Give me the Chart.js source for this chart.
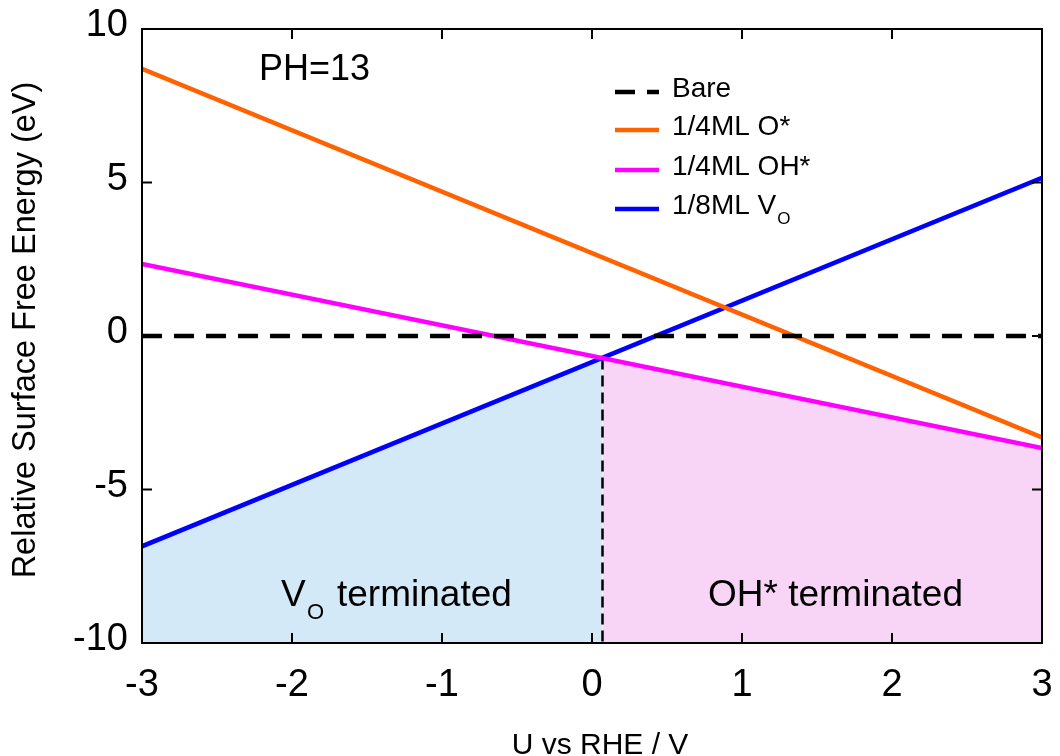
<!DOCTYPE html>
<html>
<head>
<meta charset="utf-8">
<script src="https://cdn.jsdelivr.net/npm/chart.js@4.4.1/dist/chart.umd.min.js"></script>
<style>
  html, body { margin: 0; padding: 0; background: #fff; }
  #wrap { width: 1060px; height: 756px; }
</style>
</head>
<body>
<div id="wrap"><canvas id="pourbaix"></canvas></div>
<script>
const FONT = "'Liberation Sans', Arial, Helvetica, sans-serif";

// --- Data: surface free energy vs potential (pH 13) ---
const potential = [-3, 3];                 // U vs RHE (V)
const bareEnergy = [0, 0];
const oStarEnergy = [8.7, -3.3];           // 1/4ML O*
const ohStarEnergy = [2.35, -3.65];        // 1/4ML OH*
const voEnergy = [-6.85, 5.15];            // 1/8ML V_O

// crossing of V_O and OH* lines -> boundary between the two regions
const boundaryU = 0.07;
const boundaryE = -0.73;

const xTicks = [-3, -2, -1, 0, 1, 2, 3];
const yTicks = [-10, -5, 0, 5, 10];

const toPoints = (xs, ys) => xs.map((x, i) => ({ x: x, y: ys[i] }));

// frame, inward ticks, labels and hand-drawn legend
const decorPlugin = {
  id: 'decor',
  afterDatasetsDraw(chart) {
    const { ctx, chartArea: a, scales: { x, y } } = chart;
    ctx.save();
    ctx.strokeStyle = '#000';
    ctx.lineWidth = 2;
    ctx.setLineDash([]);
    ctx.strokeRect(a.left, a.top, a.right - a.left, a.bottom - a.top);
    const tl = 10;
    ctx.beginPath();
    xTicks.forEach(v => {
      const px = x.getPixelForValue(v);
      ctx.moveTo(px, a.bottom); ctx.lineTo(px, a.bottom - tl);
      ctx.moveTo(px, a.top); ctx.lineTo(px, a.top + tl);
    });
    yTicks.forEach(v => {
      const py = y.getPixelForValue(v);
      ctx.moveTo(a.left, py); ctx.lineTo(a.left + tl, py);
      ctx.moveTo(a.right, py); ctx.lineTo(a.right - tl, py);
    });
    ctx.stroke();

    ctx.fillStyle = '#000';
    ctx.textBaseline = 'alphabetic';
    ctx.textAlign = 'left';

    // annotation
    ctx.font = `36px ${FONT}`;
    ctx.fillText('PH=13', 259, 80);

    // region labels
    ctx.font = `37px ${FONT}`;
    ctx.fillText('V', 281, 606);
    ctx.font = `22px ${FONT}`;
    ctx.fillText('O', 307, 619);
    ctx.font = `37px ${FONT}`;
    ctx.fillText('terminated', 337, 606);
    ctx.fillText('OH* terminated', 708, 606);

    // legend
    const legend = [
      { label: 'Bare', color: '#000', dash: [20, 12] },
      { label: '1/4ML O*', color: '#ff6200', dash: [] },
      { label: '1/4ML OH*', color: '#ff00ff', dash: [] },
      { label: '1/8ML V', color: '#0000ff', dash: [], sub: 'O' }
    ];
    const rowY = [92, 130, 170, 209];
    legend.forEach((item, i) => {
      ctx.beginPath();
      ctx.strokeStyle = item.color;
      ctx.lineWidth = 4.5;
      ctx.setLineDash(item.dash);
      ctx.moveTo(615, rowY[i]);
      ctx.lineTo(659, rowY[i]);
      ctx.stroke();
      ctx.setLineDash([]);
      ctx.font = `28px ${FONT}`;
      ctx.fillText(item.label, 672, rowY[i] + 5);
      if (item.sub) {
        const w = ctx.measureText(item.label).width;
        ctx.font = `17px ${FONT}`;
        ctx.fillText(item.sub, 672 + w + 1, rowY[i] + 15);
      }
    });

    // axis titles
    ctx.font = `30px ${FONT}`;
    ctx.textAlign = 'center';
    ctx.fillText('U vs RHE / V', 600, 754);
    ctx.translate(35, 330);
    ctx.rotate(-Math.PI / 2);
    ctx.font = `32.5px ${FONT}`;
    ctx.fillText('Relative Surface Free Energy (eV)', 0, 0);
    ctx.restore();
  }
};

const lineStyle = { showLine: true, pointRadius: 0, borderWidth: 4.5, fill: false, tension: 0 };

new Chart(document.getElementById('pourbaix'), {
  type: 'scatter',
  data: {
    datasets: [
      { ...lineStyle, label: 'Bare', data: toPoints(potential, bareEnergy), borderColor: '#000', borderDash: [20, 12] },
      { ...lineStyle, label: '1/4ML O*', data: toPoints(potential, oStarEnergy), borderColor: '#ff6200' },
      { ...lineStyle, label: '1/4ML OH*', data: toPoints(potential, ohStarEnergy), borderColor: '#ff00ff' },
      { ...lineStyle, label: '1/8ML VO', data: toPoints(potential, voEnergy), borderColor: '#0000ff' },
      { ...lineStyle, label: 'boundary', data: [{ x: boundaryU, y: boundaryE }, { x: boundaryU, y: -10 }],
        borderColor: '#000', borderWidth: 2.5, borderDash: [11, 6] },
      { showLine: true, pointRadius: 0, borderWidth: 0, label: 'VO region',
        data: [{ x: potential[0], y: voEnergy[0] }, { x: boundaryU, y: boundaryE }],
        backgroundColor: '#d3e9f7', borderColor: 'rgba(0,0,0,0)', fill: 'start' },
      { showLine: true, pointRadius: 0, borderWidth: 0, label: 'OH region',
        data: [{ x: boundaryU, y: boundaryE }, { x: potential[1], y: ohStarEnergy[1] }],
        backgroundColor: '#f8d5f6', borderColor: 'rgba(0,0,0,0)', fill: 'start' }
    ]
  },
  options: {
    responsive: true,
    maintainAspectRatio: false,
    animation: false,
    layout: { padding: { top: 29, right: 18, left: 0, bottom: 0 } },
    plugins: { legend: { display: false }, tooltip: { enabled: false } },
    scales: {
      x: {
        type: 'linear', min: -3, max: 3,
        afterFit: s => { s.height = 113; s.paddingLeft = 0; s.paddingRight = 0; },
        grid: { display: false, drawTicks: false },
        border: { display: false },
        ticks: { stepSize: 1, color: '#000', padding: 20, font: { family: FONT, size: 38 } }
      },
      y: {
        type: 'linear', min: -10, max: 10,
        afterFit: s => { s.width = 142; s.paddingTop = 0; s.paddingBottom = 0; },
        grid: { display: false, drawTicks: false },
        border: { display: false },
        ticks: { stepSize: 5, color: '#000', padding: 14, labelOffset: -3, font: { family: FONT, size: 38 } }
      }
    }
  },
  plugins: [decorPlugin]
});
</script>
</body>
</html>
